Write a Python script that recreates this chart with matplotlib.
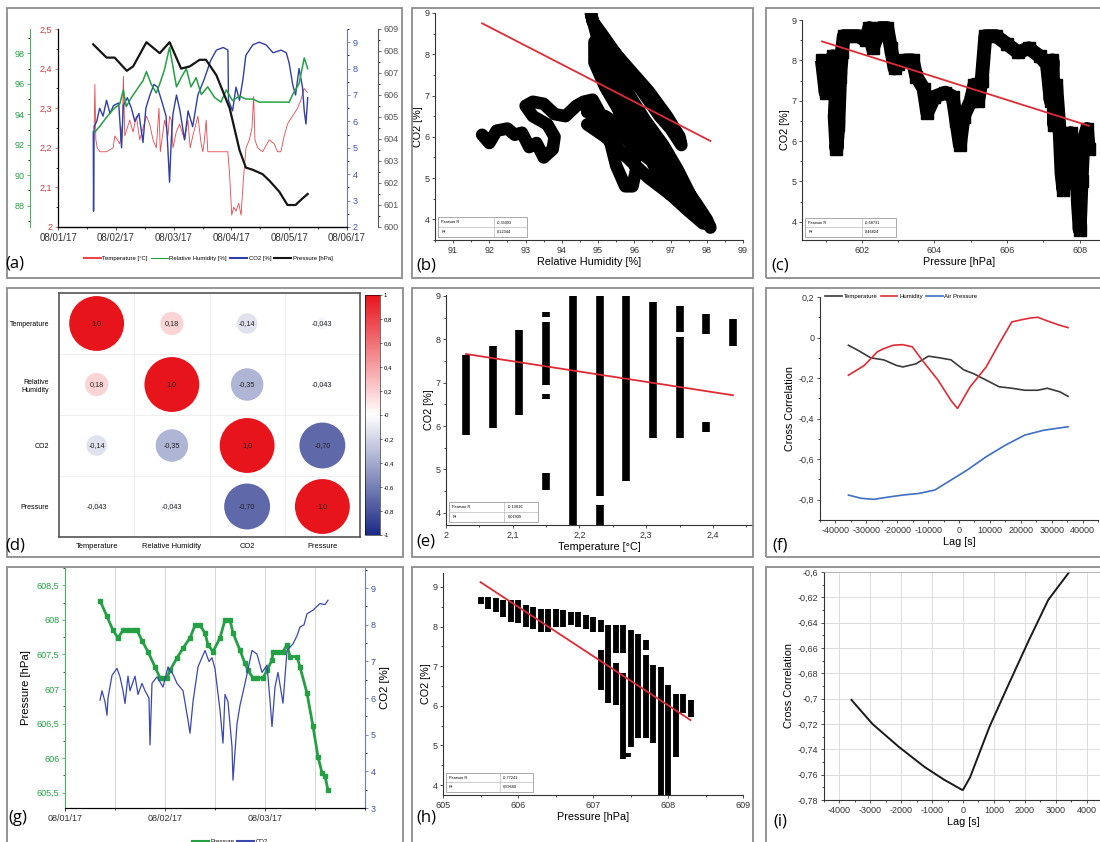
import numpy as np
import matplotlib
matplotlib.use('Agg')
import matplotlib.pyplot as plt
import matplotlib.cm as cm
from matplotlib.ticker import FuncFormatter, MultipleLocator
from matplotlib.colors import LinearSegmentedColormap, Normalize
from matplotlib.patches import Rectangle
from matplotlib.lines import Line2D

plt.rcParams['font.family'] = ['Liberation Sans', 'DejaVu Sans']

# ---------------- data ----------------
# (a) time series, x in days from 08/01/17
date_labels = ['08/01/17', '08/02/17', '08/03/17', '08/04/17', '08/05/17', '08/06/17']
a_temp_day = [0.626, 0.638, 0.655, 0.678, 0.724, 0.839, 0.954, 0.983, 1.069, 1.115, 1.132, 1.155, 1.241,
              1.299, 1.356, 1.414, 1.471, 1.529, 1.586, 1.644, 1.701, 1.747, 1.770, 1.845, 1.902, 1.931,
              1.960, 1.989, 2.046, 2.103, 2.190, 2.247, 2.287, 2.333, 2.420, 2.477, 2.506, 2.534, 2.563,
              2.592, 2.632, 2.793, 2.937, 2.966, 3.006, 3.040, 3.080, 3.126, 3.167, 3.207, 3.253, 3.310,
              3.356, 3.385, 3.408, 3.454, 3.540, 3.655, 3.741, 3.799, 3.856, 3.914, 3.971, 4.057, 4.144,
              4.201, 4.259, 4.316]
a_temp = [2.25, 2.36, 2.22, 2.20, 2.19, 2.19, 2.20, 2.23, 2.21, 2.26, 2.38, 2.23, 2.27,
          2.24, 2.28, 2.22, 2.25, 2.28, 2.26, 2.22, 2.20, 2.30, 2.19, 2.27, 2.23, 2.28,
          2.27, 2.20, 2.24, 2.26, 2.22, 2.27, 2.20, 2.23, 2.28, 2.21, 2.19, 2.22, 2.27,
          2.19, 2.19, 2.19, 2.19, 2.14, 2.03, 2.05, 2.04, 2.06, 2.03, 2.12, 2.20, 2.22,
          2.25, 2.33, 2.22, 2.20, 2.19, 2.22, 2.21, 2.19, 2.19, 2.23, 2.26, 2.28, 2.30,
          2.32, 2.35, 2.34]
a_rh_day = [0.63, 0.72, 0.84, 0.95, 1.07, 1.13, 1.18, 1.27, 1.36, 1.47, 1.53, 1.61, 1.70, 1.76, 1.84,
            1.93, 1.99, 2.05, 2.13, 2.22, 2.30, 2.39, 2.48, 2.59, 2.71, 2.82, 2.91, 3.02, 3.14, 3.25,
            3.37, 3.48, 3.60, 3.83, 4.00, 4.06, 4.17, 4.26, 4.32]
a_rh = [92.8, 93.2, 93.8, 94.3, 94.7, 95.6, 94.5, 95.1, 95.6, 96.2, 96.8, 96.0, 95.4, 96.0, 96.9,
        98.4, 97.1, 95.8, 96.4, 97.0, 95.8, 96.4, 95.3, 95.8, 95.1, 94.8, 95.6, 94.9, 95.2, 95.0,
        95.0, 94.8, 94.8, 94.8, 94.8, 95.3, 96.0, 97.7, 97.0]
a_co2_day = [0.61, 0.615, 0.625, 0.67, 0.72, 0.78, 0.84, 0.90, 0.96, 1.05, 1.10, 1.13, 1.20, 1.27, 1.33,
             1.40, 1.47, 1.52, 1.59, 1.66, 1.72, 1.79, 1.87, 1.90, 1.93, 1.96, 1.99, 2.05, 2.11, 2.19,
             2.25, 2.33, 2.42, 2.53, 2.64, 2.74, 2.86, 2.94, 2.95, 3.02, 3.08, 3.14, 3.20, 3.25, 3.37,
             3.48, 3.60, 3.72, 3.86, 3.95, 4.00, 4.06, 4.11, 4.17, 4.23, 4.26, 4.29, 4.32]
a_co2 = [5.6, 2.6, 5.8, 6.0, 6.5, 6.2, 6.8, 6.3, 6.6, 6.7, 5.0, 6.6, 6.9, 6.5, 6.0,
         6.3, 5.2, 6.5, 7.0, 7.4, 7.3, 6.8, 6.2, 5.0, 3.7, 5.3, 6.3, 7.0, 6.4, 5.3,
         6.4, 5.8, 7.0, 7.6, 8.3, 8.7, 8.8, 8.7, 6.8, 6.4, 7.3, 6.8, 7.6, 8.5, 8.9,
         9.0, 8.9, 8.6, 8.7, 8.6, 8.2, 7.4, 7.0, 8.0, 7.3, 6.4, 5.9, 6.9]
a_p_day = [0.61, 0.84, 0.98, 1.19, 1.30, 1.53, 1.76, 1.93, 2.13, 2.28, 2.45, 2.56, 2.74, 2.97, 3.14,
           3.25, 3.37, 3.54, 3.66, 3.83, 3.97, 4.11, 4.23, 4.32]
a_p = [608.3, 607.7, 607.7, 607.1, 607.3, 608.4, 607.9, 608.4, 607.2, 607.3, 607.6, 607.6, 606.9, 605.4,
       603.5, 602.7, 602.6, 602.4, 602.1, 601.6, 601.0, 601.0, 601.3, 601.5]

# (b) CO2 vs relative humidity trajectory
b_rh = [91.8, 92.0, 92.2, 92.5, 92.7, 92.9, 93.1, 93.3, 93.5, 93.75, 93.8, 93.6, 93.2, 93.0, 93.2, 93.5,
        93.8, 94.1, 94.4, 94.6, 94.85, 95.1, 95.3, 95.5, 95.75, 95.95, 96.05, 95.9, 95.6, 95.3, 95.1,
        94.95, 94.8, 94.85, 95.1, 95.5, 95.9, 96.3, 96.7, 97.0, 97.3, 97.25, 96.9, 96.4, 96.0, 95.6,
        95.2, 95.0, 95.2, 95.6, 96.0, 96.4, 96.9, 97.3, 97.7, 98.0, 98.1, 97.8, 97.3, 96.8, 96.2, 95.7,
        95.2, 94.7, 95.2, 95.8, 96.4, 97.0, 97.5, 97.9,
        97.95, 97.6, 97.2, 96.8, 96.3, 95.8, 95.3, 94.9,
        94.9, 95.2, 95.6, 96.1, 96.5, 96.9, 97.4,
        97.0, 96.6, 96.2, 95.7, 95.2, 94.7]
b_co2 = [6.05, 5.85, 6.15, 6.2, 6.05, 6.1, 5.75, 5.85, 5.5, 5.7, 6.0, 6.3, 6.5, 6.75, 6.85, 6.8,
         6.55, 6.5, 6.75, 6.85, 6.9, 6.5, 6.0, 5.3, 4.8, 4.8, 5.2, 5.9, 6.6, 7.3, 7.9,
         8.5, 9.0, 8.8, 8.5, 8.0, 7.5, 7.0, 6.5, 6.2, 5.8, 6.0, 6.5, 7.1, 7.5, 7.9,
         8.3, 8.1, 7.5, 6.9, 6.3, 5.8, 5.3, 4.9, 4.4, 4.0, 3.8, 4.2, 4.7, 5.2, 5.6, 6.0,
         6.4, 6.3, 6.0, 5.5, 5.0, 4.6, 4.2, 3.9,
         4.0, 4.5, 5.2, 5.8, 6.4, 7.1, 7.8, 8.3,
         7.8, 7.2, 6.6, 6.0, 5.4, 4.9, 4.4,
         4.6, 5.2, 5.9, 6.2, 6.5, 6.6]
b_fit_x = [91.8, 98.1]
b_fit_y = [8.75, 5.9]

# (c) CO2 vs pressure trajectory
c_p = [600.9, 601.0, 601.1, 601.2, 601.3, 601.25, 601.3, 601.35, 601.4, 601.45, 601.5, 601.6, 601.9,
       602.1, 602.2, 602.3, 602.5, 602.7, 602.8, 602.9, 603.0, 603.2, 603.4, 603.5, 603.7, 603.8,
       604.0, 604.3, 604.5, 604.6, 604.7, 604.8, 605.0, 605.1, 605.2, 605.3, 605.4, 605.7, 606.0,
       606.3, 606.6, 606.9, 607.1, 607.2, 607.25, 607.3, 607.35, 607.45, 607.5, 607.55, 607.6,
       607.75, 607.9, 607.95, 608.0, 608.05, 608.1, 608.2, 608.25]
c_co2 = [8.0, 7.2, 7.8, 8.1, 7.5, 6.6, 5.8, 6.4, 7.6, 8.2, 8.6, 8.6, 8.6,
         8.5, 8.8, 8.3, 8.8, 8.8, 8.3, 7.8, 7.9, 8.0, 8.0, 7.6, 7.3, 6.7,
         7.1, 7.2, 7.1, 6.5, 5.9, 6.6, 7.0, 7.4, 7.0, 7.5, 8.6, 8.6, 8.4,
         8.2, 8.3, 8.1, 7.9, 7.0, 8.0, 6.4, 7.4, 6.2, 5.2, 4.8, 5.8,
         6.2, 5.6, 4.5, 3.8, 5.0, 6.0, 6.3, 5.8]
c_fit_x = [600.9, 608.25]
c_fit_y = [8.47, 6.38]

# (d) correlation matrix
corr_names = ['Temperature', 'Relative Humidity', 'CO2', 'Pressure']
corr_row_names = ['Temperature', 'Relative\nHumidity', 'CO2', 'Pressure']
corr = [[1.0, 0.18, -0.14, -0.043],
        [0.18, 1.0, -0.35, -0.043],
        [-0.14, -0.35, 1.0, -0.70],
        [-0.043, -0.043, -0.70, 1.0]]
corr_text = [['1,0', '0,18', '-0,14', '-0,043'],
             ['0,18', '1,0', '-0,35', '-0,043'],
             ['-0,14', '-0,35', '1,0', '-0,70'],
             ['-0,043', '-0,043', '-0,70', '1,0']]

# (e) CO2 vs temperature (vertical bands)
e_temp = [2.03, 2.07, 2.11, 2.15, 2.15, 2.15, 2.15, 2.19, 2.23, 2.23, 2.27, 2.31, 2.35, 2.35, 2.39, 2.39, 2.43]
e_lo = [5.79, 5.95, 6.25, 8.52, 6.94, 6.62, 4.53, 3.72, 4.38, 3.72, 4.73, 5.72, 8.16, 5.72, 8.12, 5.87, 7.85]
e_hi = [7.63, 7.85, 8.21, 8.62, 8.39, 6.73, 4.92, 9.0, 9.0, 4.19, 9.0, 8.85, 8.77, 8.05, 8.58, 6.10, 8.47]
e_fit_x = [2.03, 2.43]
e_fit_y = [7.66, 6.71]

# (f) cross correlation
f_lag_t = [-35800, -32700, -28600, -24400, -20300, -18200, -14000, -9900, -6700, -2600, 1600, 4700,
           8800, 13000, 17100, 21300, 25500, 28600, 32700, 35300]
f_temp = [-0.038, -0.063, -0.10, -0.11, -0.137, -0.145, -0.13, -0.092, -0.099, -0.11, -0.16, -0.178,
          -0.21, -0.243, -0.25, -0.26, -0.26, -0.25, -0.268, -0.29]
f_lag_h = [-35800, -30600, -26500, -24400, -21300, -18200, -15100, -12000, -6800, -2600, -500, 500,
           3600, 8800, 13000, 17100, 20300, 23400, 25500, 28600, 32700, 35300]
f_hum = [-0.186, -0.137, -0.071, -0.055, -0.038, -0.035, -0.046, -0.11, -0.21, -0.31, -0.35, -0.325,
         -0.243, -0.145, -0.03, 0.077, 0.088, 0.097, 0.10, 0.082, 0.06, 0.049]
f_lag_p = [-35800, -31700, -27500, -23400, -18200, -13000, -7800, -2600, 2600, 8800, 15000, 21300,
           27500, 35300]
f_pres = [-0.777, -0.793, -0.798, -0.788, -0.777, -0.769, -0.752, -0.703, -0.654, -0.588, -0.531,
          -0.481, -0.457, -0.44]

# (g) pressure and CO2, x in days from 08/01/17
g_day_labels = ['08/01/17', '08/02/17', '08/03/17']
g_p_day = [0.35, 0.42, 0.48, 0.53, 0.58, 0.63, 0.68, 0.72, 0.77, 0.83, 0.90, 0.95, 0.98, 1.02, 1.05,
           1.12, 1.18, 1.25, 1.30, 1.35, 1.40, 1.43, 1.48, 1.55, 1.60, 1.65, 1.68, 1.75, 1.80, 1.83,
           1.88, 1.92, 1.98, 2.02, 2.07, 2.08, 2.13, 2.18, 2.22, 2.25, 2.32, 2.35, 2.42, 2.48, 2.53,
           2.57, 2.60, 2.63]
g_pres = [608.28, 608.05, 607.85, 607.74, 607.85, 607.85, 607.85, 607.85, 607.70, 607.54, 607.32, 607.16,
          607.16, 607.16, 607.27, 607.45, 607.59, 607.74, 607.92, 607.92, 607.81, 607.64, 607.54, 607.74,
          608.0, 608.0, 607.81, 607.56, 607.37, 607.27, 607.16, 607.16, 607.16, 607.27, 607.42, 607.54,
          607.54, 607.54, 607.64, 607.47, 607.47, 607.32, 606.94, 606.46, 606.02, 605.79, 605.74, 605.54]
g_co2_day = [0.35, 0.37, 0.40, 0.42, 0.43, 0.47, 0.52, 0.55, 0.58, 0.60, 0.63, 0.65, 0.70, 0.73, 0.77,
             0.80, 0.84, 0.85, 0.87, 0.92, 0.98, 1.03, 1.08, 1.12, 1.15, 1.18, 1.23, 1.25, 1.28, 1.33,
             1.40, 1.44, 1.47, 1.50, 1.55, 1.58, 1.60, 1.63, 1.67, 1.68, 1.72, 1.75, 1.80, 1.87, 1.92,
             1.97, 2.02, 2.05, 2.07, 2.10, 2.13, 2.18, 2.22, 2.28, 2.32, 2.35, 2.39, 2.42, 2.48, 2.55,
             2.60, 2.63]
g_co2 = [5.94, 6.2, 5.9, 5.53, 6.0, 6.62, 6.81, 6.58, 6.2, 5.85, 6.6, 6.2, 6.6, 6.1, 6.4,
         6.2, 6.0, 4.72, 6.4, 6.58, 6.3, 6.85, 6.65, 6.4, 6.3, 6.2, 5.4, 5.04, 5.9, 6.85,
         7.3, 7.0, 7.1, 6.8, 5.67, 4.77, 6.1, 5.9, 4.67, 3.76, 5.3, 5.8, 6.4, 7.3, 7.2,
         6.7, 6.9, 5.94, 5.22, 6.3, 6.7, 5.86, 7.3, 7.48, 7.7, 7.94, 8.0, 8.3, 8.4, 8.58,
         8.55, 8.67]

# (h) CO2 vs pressure (vertical bands)
h_p = [605.5, 605.6, 605.7, 605.8, 605.9, 606.0, 606.1, 606.2, 606.3, 606.4, 606.5, 606.6, 606.7, 606.8,
       606.9, 607.0, 607.1, 607.1, 607.2, 607.3, 607.3, 607.4, 607.4, 607.5, 607.47, 607.6, 607.7, 607.7,
       607.8, 607.9, 608.0, 608.1, 608.2, 608.3]
h_lo = [8.58, 8.45, 8.37, 8.24, 8.12, 8.08, 7.99, 7.95, 7.87, 7.87, 7.99, 7.99, 8.03, 7.99,
        7.95, 7.87, 7.87, 6.39, 6.06, 7.32, 6.02, 7.32, 4.67, 4.97, 4.72, 5.18, 7.40, 5.18,
        5.05, 3.75, 3.75, 4.71, 5.81, 5.72]
h_hi = [8.75, 8.75, 8.71, 8.66, 8.66, 8.66, 8.54, 8.50, 8.45, 8.45, 8.45, 8.41, 8.37, 8.37,
        8.29, 8.24, 8.16, 7.40, 8.03, 8.03, 7.07, 8.03, 6.82, 7.91, 4.80, 7.82, 7.66, 7.28,
        7.03, 6.98, 6.52, 6.31, 6.31, 6.14]
h_fit_x = [605.5, 608.3]
h_fit_y = [9.12, 5.64]

# (i) cross correlation, short lags
i_lag = [-3610, -2930, -2080, -1240, -610, -30, 0, 230, 860, 1490, 2130, 2760, 3440]
i_cc = [-0.701, -0.72, -0.738, -0.754, -0.764, -0.772, -0.772, -0.762, -0.722, -0.688, -0.654, -0.622, -0.6]

# ---------------- helpers ----------------
W, H = 1100, 842
RED = '#df2b35'
GREEN = '#23a043'
BLUE = '#2f3fa8'
TICK = 6.5
LAB = 7.8


def box(x0, y0, x1, y1):
    return [x0 / W, 1 - y1 / H, (x1 - x0) / W, (y1 - y0) / H]


def comma(v, pos=None):
    return ('%g' % round(v, 4)).replace('.', ',')


def style(ax):
    for s in ['top', 'right']:
        ax.spines[s].set_visible(False)
    for s in ['left', 'bottom']:
        ax.spines[s].set_linewidth(0.8)
        ax.spines[s].set_color('#333333')
    ax.tick_params(labelsize=TICK, length=2.5, width=0.6, pad=1.5, direction='out', colors='#333333')
    ax.tick_params(which='minor', length=1.5, width=0.5)
    ax.xaxis.set_major_formatter(FuncFormatter(comma))
    ax.yaxis.set_major_formatter(FuncFormatter(comma))


def stats(ax, r, r2):
    x0, x1, xm, y0, y1 = 0.01, 0.30, 0.19, 0.015, 0.10
    ym = (y0 + y1) / 2
    ax.add_patch(Rectangle((x0, y0), x1 - x0, y1 - y0, transform=ax.transAxes, fill=True, fc='white',
                           lw=0.5, ec='#888888', zorder=5))
    ax.plot([x0, x1], [ym, ym], transform=ax.transAxes, lw=0.4, c='#aaaaaa', zorder=5)
    ax.plot([xm, xm], [y0, y1], transform=ax.transAxes, lw=0.4, c='#aaaaaa', zorder=5)
    kw = dict(transform=ax.transAxes, fontsize=2.8, va='center', zorder=6)
    ax.text(x0 + 0.01, (ym + y1) / 2, 'Pearson R', **kw)
    ax.text(xm + 0.01, (ym + y1) / 2, r, **kw)
    ax.text(x0 + 0.01, (y0 + ym) / 2, 'R²', **kw)
    ax.text(xm + 0.01, (y0 + ym) / 2, r2, **kw)


fig = plt.figure(figsize=(11, 8.42), dpi=100)

# panel frames and labels
frames = [(7, 8, 402, 278), (412, 8, 753, 278), (766, 8, 1105, 278),
          (7, 288, 403, 557), (412, 288, 753, 557), (766, 288, 1105, 557),
          (7, 567, 403, 850), (412, 567, 753, 850), (766, 567, 1105, 850)]
for x0, y0, x1, y1 in frames:
    fig.add_artist(Rectangle((x0 / W, 1 - y1 / H), (x1 - x0) / W, (y1 - y0) / H,
                             transform=fig.transFigure, fill=False, ec='#8c8c8c', lw=1.3))
panel_labels = [('(a)', 5, 263), ('(b)', 416, 266), ('(c)', 771, 266),
                ('(d)', 5, 545), ('(e)', 416, 542), ('(f)', 772, 545),
                ('(g)', 8, 818), ('(h)', 416, 818), ('(i)', 773, 822)]
for t, x, y in panel_labels:
    fig.text(x / W, 1 - y / H, t, fontsize=12, va='center', ha='left', family=['Open Sans', 'DejaVu Sans'])

# ---------------- (a) ----------------
ax_a = fig.add_axes(box(58, 29, 347, 227))
style(ax_a)
ax_co2 = ax_a.twinx()
ax_rh = ax_a.twinx()
ax_pr = ax_a.twinx()
ax_a.plot(a_temp_day, a_temp, color='#e8454d', lw=0.6)
ax_co2.plot(a_co2_day, a_co2, color=BLUE, lw=1.0)
ax_rh.plot(a_rh_day, a_rh, color=GREEN, lw=1.1)
ax_pr.plot(a_p_day, a_p, color='#151515', lw=1.6)
ax_a.set_xlim(0, 5)
ax_a.set_ylim(2, 2.5)
ax_a.set_xticks(range(6))
ax_a.set_xticklabels(date_labels)
ax_a.tick_params(axis='x', labelsize=7)
ax_a.xaxis.set_minor_locator(MultipleLocator(0.5))
ax_a.yaxis.set_major_locator(MultipleLocator(0.1))
ax_a.yaxis.set_minor_locator(MultipleLocator(0.05))
ax_a.spines['left'].set_color('#e06666')
ax_a.tick_params(axis='y', colors='#e06666', labelcolor='#c83c3c')

ax_rh.set_ylim(86.6, 99.6)
ax_rh.spines['left'].set_position(('axes', -28 / 289))
ax_rh.spines['left'].set_visible(True)
ax_rh.spines['left'].set_color('#4caf64')
ax_rh.spines['right'].set_visible(False)
ax_rh.spines['top'].set_visible(False)
ax_rh.yaxis.set_ticks_position('left')
ax_rh.yaxis.set_label_position('left')
ax_rh.set_yticks([88, 90, 92, 94, 96, 98])
ax_rh.yaxis.set_minor_locator(MultipleLocator(1))
ax_rh.tick_params(labelsize=TICK, length=2.5, width=0.6, pad=1.5, colors='#4caf64', labelcolor=GREEN)
ax_rh.tick_params(which='minor', length=1.5)

ax_co2.set_ylim(2, 9.5)
ax_co2.spines['right'].set_color('#6a78c8')
ax_co2.spines['top'].set_visible(False)
ax_co2.set_yticks(range(2, 10))
ax_co2.yaxis.set_minor_locator(MultipleLocator(0.5))
ax_co2.tick_params(labelsize=TICK, length=2.5, width=0.6, pad=1.5, colors='#6a78c8', labelcolor='#4050a8')
ax_co2.tick_params(which='minor', length=1.5)

ax_pr.set_ylim(600, 609)
ax_pr.spines['right'].set_position(('axes', 1 + 31 / 289))
ax_pr.spines['right'].set_color('#555555')
ax_pr.spines['top'].set_visible(False)
ax_pr.set_yticks(range(600, 610))
ax_pr.yaxis.set_minor_locator(MultipleLocator(0.5))
ax_pr.tick_params(labelsize=TICK, length=2.5, width=0.6, pad=1.5, colors='#555555')
ax_pr.tick_params(which='minor', length=1.5)

a_handles = [Line2D([], [], color='#e8454d', lw=1.5), Line2D([], [], color=GREEN, lw=0.8),
             Line2D([], [], color=BLUE, lw=1.5), Line2D([], [], color='#151515', lw=1.5)]
ax_a.legend(a_handles, ['Temperature [°C]', 'Relative Humidity [%]', 'CO2 [%]', 'Pressure [hPa]'],
            loc='upper center', bbox_to_anchor=(0.52, -0.12), ncol=4, fontsize=4.3, frameon=False,
            handlelength=2.8, columnspacing=0.5, handletextpad=0.3)

# ---------------- (b) ----------------
ax_b = fig.add_axes(box(435, 13, 743, 240))
style(ax_b)
ax_b.plot(b_rh, b_co2, color='black', lw=9, solid_joinstyle='round', solid_capstyle='round')
ax_b.plot(b_fit_x, b_fit_y, color=RED, lw=1.3)
ax_b.set_xlim(90.5, 99)
ax_b.set_ylim(3.5, 9)
ax_b.xaxis.set_major_locator(MultipleLocator(1))
ax_b.xaxis.set_minor_locator(MultipleLocator(0.5))
ax_b.yaxis.set_major_locator(MultipleLocator(1))
ax_b.yaxis.set_minor_locator(MultipleLocator(0.5))
ax_b.set_xlabel('Relative Humidity [%]', fontsize=LAB, labelpad=2)
ax_b.set_ylabel('CO2 [%]', fontsize=LAB, labelpad=1)
stats(ax_b, '-0,35093', '0,12344')

# ---------------- (c) ----------------
ax_c = fig.add_axes(box(802, 20, 1116, 240))
style(ax_c)
ax_c.plot(c_p, c_co2, color='black', lw=10, marker='s', ms=8, solid_joinstyle='round',
          solid_capstyle='butt')
ax_c.plot(c_fit_x, c_fit_y, color=RED, lw=1.3)
ax_c.set_xlim(600.35, 609)
ax_c.set_ylim(3.55, 9)
ax_c.set_xticks([602, 604, 606, 608])
ax_c.xaxis.set_minor_locator(MultipleLocator(1))
ax_c.yaxis.set_major_locator(MultipleLocator(1))
ax_c.yaxis.set_minor_locator(MultipleLocator(0.5))
ax_c.set_xlabel('Pressure [hPa]', fontsize=LAB, labelpad=2)
ax_c.set_ylabel('CO2 [%]', fontsize=LAB, labelpad=1)
stats(ax_c, '-0,68731', '0,46824')

# ---------------- (d) ----------------
cmap = LinearSegmentedColormap.from_list('rwb', [(0, '#1b2a84'), (0.5, '#ffffff'), (1, '#e8141c')])
norm = Normalize(-1, 1)
ax_d = fig.add_axes(box(59, 293, 360, 537))
for k in [0.5, 1.5, 2.5]:
    ax_d.axvline(k, color='#ececec', lw=0.6, zorder=0)
    ax_d.axhline(k, color='#ececec', lw=0.6, zorder=0)
cx, cy, cv = [], [], []
for i in range(4):
    for j in range(4):
        cx.append(j)
        cy.append(i)
        cv.append(corr[i][j])
cv = np.array(cv)
ax_d.scatter(cx, cy, s=1560 * np.abs(cv), c=cv, cmap=cmap, norm=norm, edgecolors='none', zorder=2)
for i in range(4):
    for j in range(4):
        ax_d.text(j, i, corr_text[i][j], ha='center', va='center', fontsize=5.2, color='#222222', zorder=3)
ax_d.set_xlim(-0.5, 3.5)
ax_d.set_ylim(3.5, -0.5)
ax_d.set_xticks(range(4))
ax_d.set_xticklabels(corr_names)
ax_d.set_yticks(range(4))
ax_d.set_yticklabels(corr_row_names, ha='right', multialignment='right')
ax_d.tick_params(length=0, labelsize=5.0, pad=7)
ax_d.tick_params(axis='x', labelsize=5.4, pad=4)
for s in ax_d.spines.values():
    s.set_color('#555555')
    s.set_linewidth(1.2)
cax = fig.add_axes(box(365, 295, 380, 535))
cb = fig.colorbar(cm.ScalarMappable(norm=norm, cmap=cmap), cax=cax)
cb.set_ticks(np.arange(-1, 1.01, 0.2))
cb.ax.yaxis.set_major_formatter(FuncFormatter(comma))
cb.ax.tick_params(labelsize=4.3, length=1.5, width=0.4, pad=1)
cb.outline.set_linewidth(0.4)

# ---------------- (e) ----------------
ax_e = fig.add_axes(box(446, 295, 753, 525))
style(ax_e)
ax_e.vlines(e_temp, e_lo, e_hi, color='black', lw=5.5)
ax_e.plot(e_fit_x, e_fit_y, color=RED, lw=1.3)
ax_e.set_xlim(2, 2.46)
ax_e.set_ylim(3.72, 9.02)
ax_e.xaxis.set_major_locator(MultipleLocator(0.1))
ax_e.xaxis.set_minor_locator(MultipleLocator(0.05))
ax_e.yaxis.set_major_locator(MultipleLocator(1))
ax_e.yaxis.set_minor_locator(MultipleLocator(0.5))
ax_e.set_xlabel('Temperature [°C]', fontsize=LAB, labelpad=2)
ax_e.set_ylabel('CO2 [%]', fontsize=LAB, labelpad=1)
stats(ax_e, '-0,13816', '0,01909')

# ---------------- (f) ----------------
ax_f = fig.add_axes(box(820, 297, 1098, 520))
style(ax_f)
ax_f.plot(f_lag_t, f_temp, color='#3a3a3a', lw=1.2, label='Temperature')
ax_f.plot(f_lag_h, f_hum, color=RED, lw=1.2, label='Humidity')
ax_f.plot(f_lag_p, f_pres, color='#3d6fc2', lw=1.2, label='Air Pressure')
ax_f.set_xlim(-45000, 45000)
ax_f.set_ylim(-0.9, 0.2)
ax_f.xaxis.set_major_locator(MultipleLocator(10000))
ax_f.xaxis.set_minor_locator(MultipleLocator(5000))
ax_f.yaxis.set_major_locator(MultipleLocator(0.2))
ax_f.yaxis.set_minor_locator(MultipleLocator(0.1))
ax_f.set_xlabel('Lag [s]', fontsize=LAB, labelpad=2)
ax_f.set_ylabel('Cross Correlation', fontsize=LAB, labelpad=3)
ax_f.legend(loc='upper left', bbox_to_anchor=(0.0, 1.04), ncol=3, fontsize=4.3, frameon=False,
            handlelength=2.8, columnspacing=0.5, handletextpad=0.3)

# ---------------- (g) ----------------
ax_g = fig.add_axes(box(65, 568, 365, 808))
style(ax_g)
ax_g2 = ax_g.twinx()
for k in [0.5, 1, 1.5, 2, 2.5]:
    ax_g.axvline(k, color='#d6d6d6', lw=0.7, zorder=0)
ax_g.plot(g_p_day, g_pres, color=GREEN, lw=2, marker='s', ms=3.5, label='Pressure')
ax_g2.plot(g_co2_day, g_co2, color='#3a48b0', lw=0.9, label='CO2')
ax_g.set_xlim(0, 3)
ax_g.set_ylim(605.28, 608.75)
ax_g.set_xticks([0, 1, 2])
ax_g.set_xticklabels(g_day_labels)
ax_g.xaxis.set_minor_locator(MultipleLocator(0.5))
ax_g.yaxis.set_major_locator(MultipleLocator(0.5))
ax_g.yaxis.set_minor_locator(MultipleLocator(0.25))
ax_g.spines['left'].set_color('#4caf64')
ax_g.tick_params(axis='y', colors='#4caf64', labelcolor=GREEN)
ax_g.set_ylabel('Pressure [hPa]', fontsize=8.2, labelpad=4)
ax_g2.set_ylim(3, 9.55)
ax_g2.set_yticks(range(3, 10))
ax_g2.yaxis.set_minor_locator(MultipleLocator(0.5))
ax_g2.spines['top'].set_visible(False)
ax_g2.spines['left'].set_visible(False)
ax_g2.spines['right'].set_color('#6a78c8')
ax_g2.tick_params(labelsize=TICK, length=2.5, width=0.6, pad=1.5, colors='#6a78c8', labelcolor='#4050a8')
ax_g2.tick_params(which='minor', length=1.5)
ax_g2.set_ylabel('CO2 [%]', fontsize=8.2, labelpad=3)
g_handles = [Line2D([], [], color=GREEN, lw=1.5), Line2D([], [], color='#3a48b0', lw=1.5)]
ax_g.legend(g_handles, ['Pressure', 'CO2'], loc='upper center', bbox_to_anchor=(0.55, -0.105), ncol=2,
            fontsize=4.3, frameon=False, handlelength=2.8, columnspacing=0.5, handletextpad=0.3)

# ---------------- (h) ----------------
ax_h = fig.add_axes(box(443, 573, 743, 795))
style(ax_h)
ax_h.vlines(h_p, h_lo, h_hi, color='black', lw=4.2)
ax_h.plot(h_fit_x, h_fit_y, color=RED, lw=1.3)
ax_h.set_xlim(605, 609)
ax_h.set_ylim(3.75, 9.35)
ax_h.xaxis.set_major_locator(MultipleLocator(1))
ax_h.xaxis.set_minor_locator(MultipleLocator(0.5))
ax_h.yaxis.set_major_locator(MultipleLocator(1))
ax_h.yaxis.set_minor_locator(MultipleLocator(0.5))
ax_h.set_xlabel('Pressure [hPa]', fontsize=LAB, labelpad=2)
ax_h.set_ylabel('CO2 [%]', fontsize=LAB, labelpad=1)
stats(ax_h, '-0,77241', '0,59660')

# ---------------- (i) ----------------
ax_i = fig.add_axes(box(824, 572, 1102, 800))
style(ax_i)
ax_i.plot(i_lag, i_cc, color='#1a1a1a', lw=1.4)
ax_i.set_xlim(-4500, 4500)
ax_i.set_ylim(-0.78, -0.6)
ax_i.xaxis.set_major_locator(MultipleLocator(1000))
ax_i.xaxis.set_minor_locator(MultipleLocator(500))
ax_i.yaxis.set_major_locator(MultipleLocator(0.02))
ax_i.yaxis.set_minor_locator(MultipleLocator(0.01))
ax_i.grid(True, which='major', color='#dcdcdc', lw=0.7)
ax_i.set_axisbelow(True)
ax_i.spines['top'].set_visible(True)
ax_i.spines['top'].set_color('#aaaaaa')
ax_i.spines['top'].set_linewidth(0.5)
ax_i.set_xlabel('Lag [s]', fontsize=LAB, labelpad=2)
ax_i.set_ylabel('Cross Correlation', fontsize=LAB, labelpad=3)

fig.savefig('out.png', dpi=100)
